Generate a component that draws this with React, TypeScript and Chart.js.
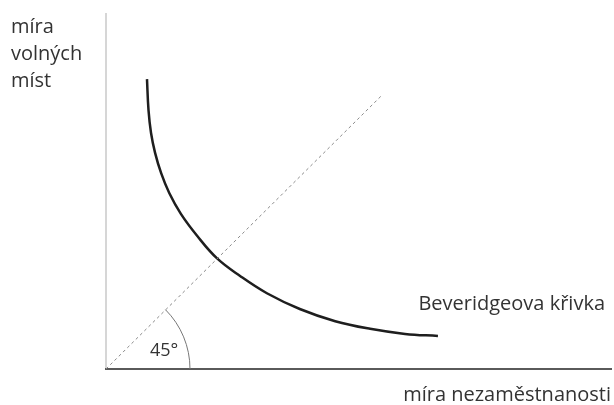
import React, { useEffect, useRef } from "react";
import { Chart, registerables } from "chart.js";

Chart.register(...registerables);

// Beveridge curve (unemployment rate, vacancy rate)
const curveU = [0.81, 0.84, 0.89, 0.97, 1.09, 1.25, 1.48, 1.80, 2.19, 2.65, 3.18, 3.83, 4.53, 5.22, 5.91, 6.56];
const curveV = [5.70, 5.09, 4.64, 4.25, 3.85, 3.46, 3.05, 2.62, 2.18, 1.83, 1.49, 1.18, 0.94, 0.79, 0.69, 0.65];
// 45° reference line
const diagU = [0, 5.45];
const diagV = [0, 5.38];
const arcRadius = 1.66; // in x units
const yLabelLines = ["míra", "volných", "míst"];
const xLabel = "míra nezaměstnanosti";
const curveLabel = "Beveridgeova křivka";
const angleLabel = "45°";

const FONT = '"Open Sans", "Noto Sans", sans-serif';

const decorPlugin = {
  id: "decor",
  beforeDatasetsDraw(chart: any) {
    const { ctx, chartArea, scales } = chart;
    const x0 = scales.x.getPixelForValue(0);
    const y0 = scales.y.getPixelForValue(0);
    ctx.save();
    // y axis
    ctx.strokeStyle = "#c8c8c8";
    ctx.lineWidth = 1.5;
    ctx.beginPath();
    ctx.moveTo(x0, chartArea.top);
    ctx.lineTo(x0, y0);
    ctx.stroke();
    // x axis
    ctx.strokeStyle = "#5a5a5a";
    ctx.lineWidth = 2;
    ctx.beginPath();
    ctx.moveTo(x0 - 1, y0);
    ctx.lineTo(chartArea.right, y0);
    ctx.stroke();
    // angle arc
    const r = scales.x.getPixelForValue(arcRadius) - x0;
    ctx.strokeStyle = "#777";
    ctx.lineWidth = 1;
    ctx.beginPath();
    ctx.arc(x0, y0, r, -Math.PI / 4, 0);
    ctx.stroke();
    ctx.restore();
  },
  afterDraw(chart: any) {
    const { ctx, scales } = chart;
    ctx.save();
    ctx.fillStyle = "#333";
    ctx.textBaseline = "alphabetic";
    ctx.font = `20px ${FONT}`;
    ctx.textAlign = "left";
    yLabelLines.forEach((t, i) => ctx.fillText(t, 11, 33 + i * 27));
    ctx.textAlign = "right";
    ctx.fillText(xLabel, 611, 401);
    ctx.fillText(curveLabel, 605, 310);
    ctx.font = `18px ${FONT}`;
    ctx.textAlign = "left";
    const ax = scales.x.getPixelForValue(0);
    const ay = scales.y.getPixelForValue(0);
    ctx.fillText(angleLabel, ax + 44, ay - 13);
    ctx.restore();
  },
};

export default function App() {
  const ref = useRef<HTMLCanvasElement>(null);
  useEffect(() => {
    document.body.style.margin = "0";
    const chart = new Chart(ref.current!, {
      type: "scatter",
      data: {
        datasets: [
          {
            data: diagU.map((u, i) => ({ x: u, y: diagV[i] })),
            showLine: true,
            borderColor: "#8a8a8a",
            borderWidth: 1,
            borderDash: [3, 3],
            pointRadius: 0,
          },
          {
            data: curveU.map((u, i) => ({ x: u, y: curveV[i] })),
            showLine: true,
            borderColor: "#1e1e1e",
            borderWidth: 2.5,
            tension: 0.4,
            pointRadius: 0,
          },
        ],
      },
      options: {
        responsive: false,
        animation: false,
        layout: { padding: { left: 106, right: 2, top: 13, bottom: 36 } },
        plugins: { legend: { display: false }, tooltip: { enabled: false } },
        scales: {
          x: { type: "linear", min: 0, max: 10, display: false },
          y: { type: "linear", min: 0, max: 7, display: false },
        },
      },
      plugins: [decorPlugin],
    } as any);
    return () => chart.destroy();
  }, []);
  return (
    <div style={{ position: "absolute", left: 0, top: 0, width: 614, height: 405, background: "#fff" }}>
      <canvas ref={ref} width={614} height={405} />
    </div>
  );
}
